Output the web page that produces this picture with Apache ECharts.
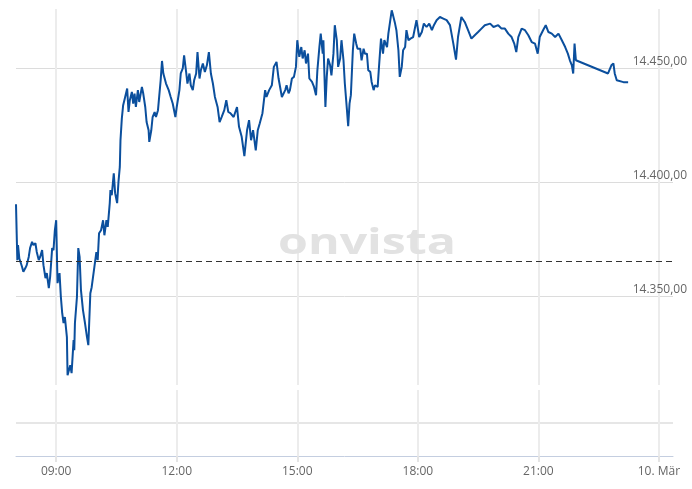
<!DOCTYPE html>
<html>
<head>
<meta charset="utf-8">
<title>DAX intraday</title>
<script src="https://cdn.jsdelivr.net/npm/echarts@6/dist/echarts.min.js"></script>
<style>
  html, body { margin: 0; padding: 0; background: #fff; }
  #chart { width: 692px; height: 489px; }
</style>
</head>
<body>
<div id="chart"></div>
<script>
// intraday quotes, 9. März
const times = [
  '08:00','08:01','08:02','08:03','08:05','08:06','08:09','08:11','08:14','08:16',
  '08:19','08:21','08:24','08:26','08:29','08:31','08:34','08:36','08:39','08:41',
  '08:44','08:46','08:49','08:51','08:54','08:56','08:58','09:00','09:02','09:05',
  '09:07','09:09','09:11','09:13','09:16','09:17','09:21','09:23','09:26','09:27',
  '09:28','09:31','09:33','09:35','09:37','09:40','09:43','09:46','09:48','09:51',
  '09:53','09:57','10:00','10:02','10:04','10:07','10:10','10:12','10:15','10:17',
  '10:20','10:21','10:23','10:26','10:28','10:31','10:33','10:35','10:36','10:38',
  '10:40','10:43','10:46','10:48','10:50','10:53','10:55','10:57','10:59','11:02',
  '11:04','11:08','11:10','11:13','11:15','11:18','11:19','11:22','11:24','11:27',
  '11:29','11:32','11:34','11:36','11:38','11:40','11:44','11:48','11:51','11:54',
  '11:58','12:00','12:04','12:06','12:09','12:11','12:14','12:16','12:19','12:21',
  '12:24','12:26','12:29','12:31','12:34','12:36','12:39','12:42','12:45','12:48',
  '12:51','12:54','12:57','13:01','13:04','13:07','13:11','13:14','13:17','13:20',
  '13:25','13:30','13:33','13:37','13:41','13:45','13:48','13:51','13:54','13:58',
  '14:01','14:04','14:08','14:12','14:14','14:18','14:22','14:25','14:29','14:30',
  '14:32','14:34','14:37','14:39','14:42','14:44','14:47','14:49','14:52','14:55',
  '14:58','15:00','15:03','15:06','15:08','15:11','15:13','15:16','15:18','15:22',
  '15:25','15:28','15:30','15:33','15:35','15:38','15:39','15:42','15:44','15:46',
  '15:49','15:51','15:54','15:56','15:59','16:01','16:04','16:06','16:09','16:11',
  '16:14','16:16','16:18','16:20','16:23','16:25','16:28','16:30','16:34','16:36',
  '16:39','16:41','16:44','16:46','16:49','16:51','16:54','16:56','17:00','17:02',
  '17:05','17:08','17:10','17:14','17:16','17:18','17:21','17:23','17:26','17:28',
  '17:31','17:33','17:36','17:38','17:41','17:43','17:46','17:49','17:53','17:58',
  '18:02','18:06','18:09','18:13','18:17','18:21','18:24','18:28','18:33','18:38',
  '18:43','18:48','18:53','18:57','19:00','19:05','19:10','19:15','19:20','19:25',
  '19:30','19:35','19:40','19:48','19:53','20:00','20:05','20:10','20:15','20:20',
  '20:24','20:27','20:30','20:35','20:40','20:45','20:50','20:55','20:59','21:02',
  '21:07','21:11','21:15','21:20','21:25','21:30','21:35','21:40','21:44','21:47',
  '21:50','21:52','21:54','21:56','21:58','22:44','22:49','22:52','22:54','22:57',
  '22:59','23:07','23:14'
];
const prices = [
  14390.3,14377.6,14365.8,14372.4,14366.5,14367.2,14362.9,14360.7,14362.3,14363.6,
  14367.2,14371.1,14373.8,14372.4,14373.2,14369.4,14365.8,14367.2,14370.2,14363.6,
  14357.9,14360.1,14353.5,14358.5,14371.1,14370.2,14378.9,14383.3,14355.7,14360.1,
  14349.6,14342.5,14338.2,14340.8,14332.0,14315.3,14319.7,14316.2,14330.7,14326.3,
  14338.2,14349.6,14371.1,14367.2,14352.6,14343.9,14338.2,14332.0,14328.5,14351.3,
  14353.9,14362.7,14369.3,14365.8,14377.6,14378.9,14383.3,14376.7,14383.3,14380.4,
  14390.8,14396.5,14394.3,14403.9,14395.2,14390.8,14400.1,14406.7,14418.4,14427.9,
  14433.8,14437.4,14441.1,14430.8,14436.0,14439.6,14434.5,14438.9,14433.0,14440.4,
  14435.2,14441.8,14438.9,14433.0,14426.4,14422.8,14417.7,14422.8,14428.6,14430.8,
  14428.6,14431.6,14438.2,14444.7,14453.2,14447.7,14443.3,14440.4,14437.4,14434.5,
  14428.6,14433.0,14440.4,14447.7,14449.9,14455.7,14448.4,14443.3,14447.7,14442.5,
  14440.4,14444.7,14447.7,14457.1,14445.5,14449.1,14452.1,14448.4,14451.3,14457.1,
  14447.7,14443.3,14437.4,14433.0,14426.4,14428.6,14431.6,14436.0,14430.8,14430.3,
  14428.6,14433.0,14424.3,14419.9,14411.4,14422.8,14427.2,14418.4,14422.8,14414.0,
  14422.8,14425.9,14430.3,14440.4,14437.4,14440.4,14442.5,14450.6,14452.8,14453.5,
  14445.6,14446.2,14437.4,14438.2,14440.4,14442.5,14439.0,14440.4,14445.5,14446.2,
  14450.6,14462.3,14455.0,14459.3,14454.3,14457.9,14452.1,14456.4,14445.5,14444.0,
  14441.8,14438.2,14449.1,14459.3,14465.2,14456.4,14462.3,14433.0,14446.2,14454.3,
  14451.3,14446.9,14456.4,14468.9,14462.3,14450.6,14454.3,14462.3,14453.5,14443.3,
  14432.3,14424.6,14434.5,14438.2,14457.9,14465.2,14460.8,14458.6,14458.6,14453.5,
  14458.6,14456.4,14456.4,14449.1,14448.4,14444.0,14440.4,14442.5,14441.8,14450.6,
  14463.0,14456.4,14462.3,14459.3,14465.2,14465.9,14475.4,14473.2,14469.6,14466.7,
  14457.9,14446.2,14450.6,14457.9,14459.3,14466.7,14462.3,14463.0,14463.7,14471.1,
  14463.7,14465.9,14469.6,14468.1,14469.6,14466.7,14468.9,14471.1,14472.5,14471.8,
  14471.1,14468.9,14460.8,14453.8,14463.7,14472.5,14470.3,14466.7,14463.0,14464.5,
  14465.9,14467.4,14468.9,14469.6,14468.1,14468.9,14467.4,14467.4,14465.2,14463.7,
  14460.8,14457.1,14463.7,14467.4,14466.7,14464.5,14461.5,14460.8,14456.4,14463.7,
  14466.7,14468.9,14465.9,14465.2,14463.7,14465.2,14462.3,14459.3,14456.4,14453.5,
  14451.3,14447.7,14460.8,14453.5,14453.0,14447.7,14451.3,14452.1,14447.7,14444.7,
  14443.9,14443.9,14443.9
];
const prevClose = 14365.4;
const hourTicks = [9, 12, 15, 18, 21, 24];

const toHours = t => {
  const [h, m] = t.split(':').map(Number);
  return h + m / 60;
};
const fmtPrice = v => {
  const parts = v.toFixed(2).split('.');
  return parts[0].replace(/\B(?=(\d{3})+(?!\d))/g, '.') + ',' + parts[1];
};
const fmtHour = v => v === 24 ? '10. Mär' : (v < 10 ? '0' : '') + v + ':00';

const chart = echarts.init(document.getElementById('chart'));

const gridLine = { color: '#ececec', width: 2 };

const option = {
  animation: false,
  backgroundColor: '#fff',
  graphic: [{
    type: 'text',
    x: 367,
    y: 244,
    scaleX: 1.38,
    z: 1,
    silent: true,
    style: {
      text: 'onvista',
      fill: '#e2e2e2',
      font: 'bold 35px "Open Sans"',
      textAlign: 'center',
      textVerticalAlign: 'middle'
    }
  }],
  grid: [
    { left: 16, right: 19, top: 9, height: 376, outerBoundsMode: 'none' },
    { left: 16, right: 19, top: 390, height: 66, outerBoundsMode: 'none' }
  ],
  xAxis: [
    {
      gridIndex: 0,
      type: 'value',
      min: 8,
      max: 24.35,
      minInterval: 3,
      maxInterval: 3,
      axisLine: { show: false },
      axisTick: { show: false, customValues: hourTicks },
      axisLabel: { show: false, customValues: hourTicks },
      splitLine: { show: true, lineStyle: gridLine }
    },
    {
      gridIndex: 1,
      type: 'value',
      min: 8,
      max: 24.35,
      minInterval: 3,
      maxInterval: 3,
      axisLine: { show: true, lineStyle: { color: '#c4cee0', width: 1 } },
      axisTick: { show: true, length: 6, customValues: hourTicks, lineStyle: { color: '#e4e4e4', width: 2 } },
      axisLabel: {
        customValues: hourTicks,
        formatter: fmtHour,
        color: '#666',
        fontFamily: 'Open Sans',
        fontSize: 12,
        margin: 10
      },
      splitLine: { show: true, lineStyle: gridLine }
    }
  ],
  yAxis: [
    {
      gridIndex: 0,
      type: 'value',
      position: 'right',
      min: 14311,
      max: 14476,
      minInterval: 50,
      maxInterval: 50,
      axisLine: { show: false },
      axisTick: { show: false },
      axisLabel: {
        showMinLabel: false,
        showMaxLabel: false,
        formatter: fmtPrice,
        align: 'right',
        verticalAlign: 'bottom',
        margin: 14,
        color: '#666',
        fontFamily: 'Open Sans',
        fontSize: 12,
        padding: [0, 0, 1, 0]
      },
      splitLine: { show: true, lineStyle: { color: '#dcdcdc', width: 1 }, showMinLine: false, showMaxLine: false }
    },
    {
      gridIndex: 1,
      type: 'value',
      min: 0,
      max: 2,
      minInterval: 1,
      maxInterval: 1,
      axisLine: { show: false },
      axisTick: { show: false },
      axisLabel: { show: false },
      splitLine: { show: true, lineStyle: { color: '#e6e6e6', width: 2 }, showMinLine: false, showMaxLine: false }
    }
  ],
  series: [{
    type: 'line',
    xAxisIndex: 0,
    yAxisIndex: 0,
    z: 3,
    data: times.map((t, i) => [toHours(t), prices[i]]),
    showSymbol: false,
    lineStyle: { color: '#0b4f9d', width: 2 },
    itemStyle: { color: '#0b4f9d' },
    markLine: {
      silent: true,
      symbol: 'none',
      label: { show: false },
      lineStyle: { color: '#333', type: [6, 4], width: 1 },
      data: [{ yAxis: prevClose }]
    }
  }]
};

chart.setOption(option);
</script>
</body>
</html>
